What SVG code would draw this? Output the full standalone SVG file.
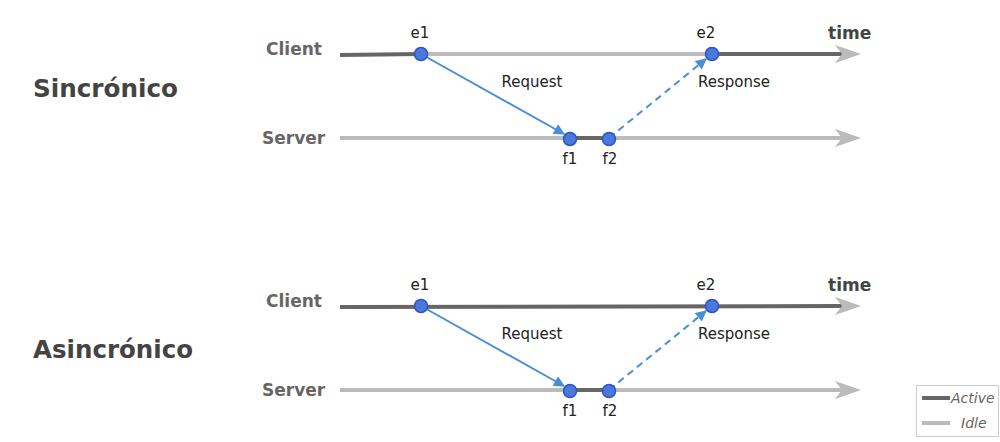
<svg xmlns="http://www.w3.org/2000/svg" width="1000" height="442" viewBox="0 0 1000 442">
<defs>
<style>
.title{font-family:"DejaVu Sans",Verdana,sans-serif;font-weight:bold;font-size:24px;fill:#444}
.role{font-family:"DejaVu Sans",Verdana,sans-serif;font-weight:bold;font-size:17px;fill:#666}
.time{font-family:"DejaVu Sans",Verdana,sans-serif;font-weight:bold;font-size:17px;fill:#444}
.lbl{font-family:"DejaVu Sans",Verdana,sans-serif;font-size:15px;fill:#222}
.leg{font-family:"DejaVu Sans",Verdana,sans-serif;font-style:italic;font-size:14px;fill:#666}
.act{stroke:#666;stroke-width:4;fill:none}
.idle{stroke:#bbb;stroke-width:4;fill:none}
.head{fill:#bbb}
.dot{fill:#4a78dc;stroke:#2c56c4;stroke-width:1.5}
.msg{stroke:#4a8fd6;stroke-width:2;fill:none}
.dash{stroke-dasharray:7 5}
</style>
<marker id="arr" viewBox="0 0 10 10" refX="9" refY="5" markerWidth="12" markerHeight="11" markerUnits="userSpaceOnUse" orient="auto">
<path d="M0,0 L10,5 L0,10 Z" fill="#4a8fd6"/>
</marker>
</defs>
<rect width="1000" height="442" fill="#fff"/>

<g id="sync">
<text class="title" x="33" y="97" textLength="145" lengthAdjust="spacingAndGlyphs">Sincrónico</text>
<text class="role" x="266" y="55">Client</text>
<text class="role" x="262" y="144">Server</text>
<text class="time" x="828" y="39">time</text>
</g>
<g id="sync-lines">
<line class="act" x1="340" y1="55" x2="421" y2="54"/>
<line class="idle" x1="421" y1="54" x2="712" y2="54"/>
<line class="act" x1="712" y1="54" x2="842" y2="54"/>
<path class="head" d="M861,54 L835,45 L842,54 L835,63 Z"/>
<line class="idle" x1="340" y1="138" x2="570" y2="138"/>
<line class="act" x1="570" y1="138" x2="609" y2="138"/>
<line class="idle" x1="609" y1="138" x2="842" y2="138"/>
<path class="head" d="M861,138 L835,129 L842,138 L835,147 Z"/>
</g>
<g id="sync-connectors">
<line class="msg" x1="421" y1="54" x2="564" y2="134" marker-end="url(#arr)"/>
<line class="msg dash" x1="609" y1="138" x2="706" y2="59" marker-end="url(#arr)"/>
</g>
<g id="sync-e1"><circle class="dot" cx="421" cy="54" r="6.5"/><text class="lbl" x="420" y="38" text-anchor="middle">e1</text></g>
<g id="sync-e2"><circle class="dot" cx="712" cy="54" r="6.5"/><text class="lbl" x="706" y="38" text-anchor="middle">e2</text></g>
<g id="sync-f1"><circle class="dot" cx="570" cy="139" r="6.5"/><text class="lbl" x="570" y="164" text-anchor="middle">f1</text></g>
<g id="sync-f2"><circle class="dot" cx="609" cy="139" r="6.5"/><text class="lbl" x="610" y="164" text-anchor="middle">f2</text></g>
<text class="lbl" x="532" y="87" text-anchor="middle">Request</text>
<text class="lbl" x="734" y="87" text-anchor="middle">Response</text>

<g id="async">
<text class="title" x="33" y="358" textLength="160" lengthAdjust="spacingAndGlyphs">Asincrónico</text>
<text class="role" x="266" y="307">Client</text>
<text class="role" x="262" y="396">Server</text>
<text class="time" x="828" y="291">time</text>
</g>
<g id="async-lines">
<line class="act" x1="340" y1="307" x2="842" y2="306"/>
<path class="head" d="M861,306 L835,297 L842,306 L835,315 Z"/>
<line class="idle" x1="340" y1="390" x2="570" y2="390"/>
<line class="act" x1="570" y1="390" x2="609" y2="390"/>
<line class="idle" x1="609" y1="390" x2="842" y2="390"/>
<path class="head" d="M861,390 L835,381 L842,390 L835,399 Z"/>
</g>
<g id="async-connectors">
<line class="msg" x1="421" y1="306" x2="564" y2="386" marker-end="url(#arr)"/>
<line class="msg dash" x1="609" y1="390" x2="706" y2="311" marker-end="url(#arr)"/>
</g>
<g id="async-e1"><circle class="dot" cx="421" cy="306" r="6.5"/><text class="lbl" x="420" y="290" text-anchor="middle">e1</text></g>
<g id="async-e2"><circle class="dot" cx="712" cy="306" r="6.5"/><text class="lbl" x="706" y="290" text-anchor="middle">e2</text></g>
<g id="async-f1"><circle class="dot" cx="570" cy="391" r="6.5"/><text class="lbl" x="570" y="416" text-anchor="middle">f1</text></g>
<g id="async-f2"><circle class="dot" cx="609" cy="391" r="6.5"/><text class="lbl" x="610" y="416" text-anchor="middle">f2</text></g>
<text class="lbl" x="532" y="339" text-anchor="middle">Request</text>
<text class="lbl" x="734" y="339" text-anchor="middle">Response</text>

<g id="legend">
<rect x="916.5" y="385.5" width="82" height="51" fill="#fff" stroke="#ccc" stroke-width="1"/>
<line class="act" x1="922" y1="398" x2="950" y2="398"/>
<text class="leg" x="951" y="403">Active</text>
<line class="idle" x1="922" y1="423" x2="950" y2="423"/>
<text class="leg" x="961" y="428">Idle</text>
</g>
</svg>
